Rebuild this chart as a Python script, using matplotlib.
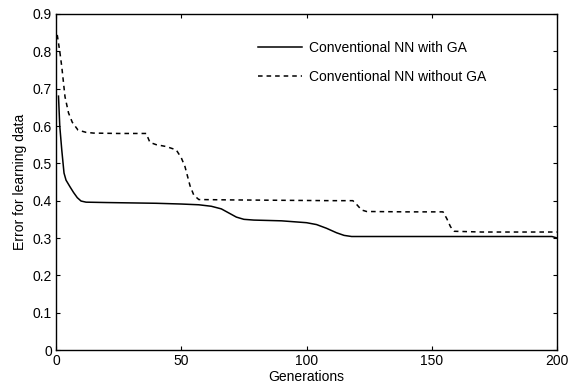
import matplotlib
matplotlib.use("Agg")
import matplotlib.pyplot as plt

plt.rcParams['font.family'] = ['Liberation Sans', 'DejaVu Sans']
plt.rcParams['font.size'] = 10

# Conventional NN with GA
gen_with = [1, 1.5, 2.3, 3.2, 4, 5.6, 7, 8.5, 10, 12, 20, 30, 40, 50, 57, 62, 66, 69,
            72, 75, 79, 90, 100, 104, 108, 112, 115, 118, 130, 150, 170, 190, 198, 200]
err_with = [0.68, 0.60, 0.536, 0.474, 0.455, 0.437, 0.422, 0.408, 0.399, 0.396, 0.395,
            0.394, 0.393, 0.391, 0.389, 0.385, 0.378, 0.367, 0.356, 0.350, 0.348, 0.346,
            0.341, 0.336, 0.326, 0.314, 0.307, 0.304, 0.304, 0.304, 0.304, 0.304, 0.304, 0.300]

# Conventional NN without GA
gen_without = [0.5, 1.5, 2.3, 3.6, 5, 6.5, 8.8, 12, 15, 25, 36, 37.5, 40, 44, 48, 50,
               51.5, 53.5, 55, 57, 70, 90, 110, 118.5, 120, 122, 124, 140, 154.5, 156,
               157.5, 159, 170, 190, 200]
err_without = [0.844, 0.80, 0.759, 0.678, 0.635, 0.610, 0.589, 0.583, 0.581, 0.580, 0.580,
               0.556, 0.550, 0.545, 0.536, 0.515, 0.491, 0.44, 0.415, 0.403, 0.402, 0.401,
               0.400, 0.400, 0.39, 0.375, 0.371, 0.370, 0.370, 0.352, 0.33, 0.318, 0.316,
               0.316, 0.316]

xticks = [0, 50, 100, 150, 200]
yticks = [0, 0.1, 0.2, 0.3, 0.4, 0.5, 0.6, 0.7, 0.8, 0.9]
ytick_labels = ['0', '0.1', '0.2', '0.3', '0.4', '0.5', '0.6', '0.7', '0.8', '0.9']

fig = plt.figure(figsize=(5.71, 3.85), dpi=100)
ax = fig.add_axes([56 / 571, 35 / 385, 501 / 571, 336 / 385])

ax.plot(gen_with, err_with, color='black', linewidth=1.1, label='Conventional NN with GA')
ax.plot(gen_without, err_without, color='black', linewidth=1.1, linestyle=(0, (3, 2.6)),
        label='Conventional NN without GA')

ax.set_xlim(0, 200)
ax.set_ylim(0, 0.9)
ax.set_xticks(xticks)
ax.set_yticks(yticks)
ax.set_yticklabels(ytick_labels)
ax.tick_params(direction='in', top=True, right=True, length=3, width=0.8, labelsize=10, pad=3)
for s in ax.spines.values():
    s.set_linewidth(1.0)

ax.set_xlabel('Generations', labelpad=1)
ax.set_ylabel('Error for learning data', labelpad=4)

ax.legend(loc='upper left', frameon=False, bbox_to_anchor=(258 / 571, 1 - 41 / 385),
          bbox_transform=fig.transFigure, borderpad=0, borderaxespad=0,
          handlelength=3.2, handletextpad=0.5, labelspacing=1.05)

fig.savefig('out.png', dpi=100)
